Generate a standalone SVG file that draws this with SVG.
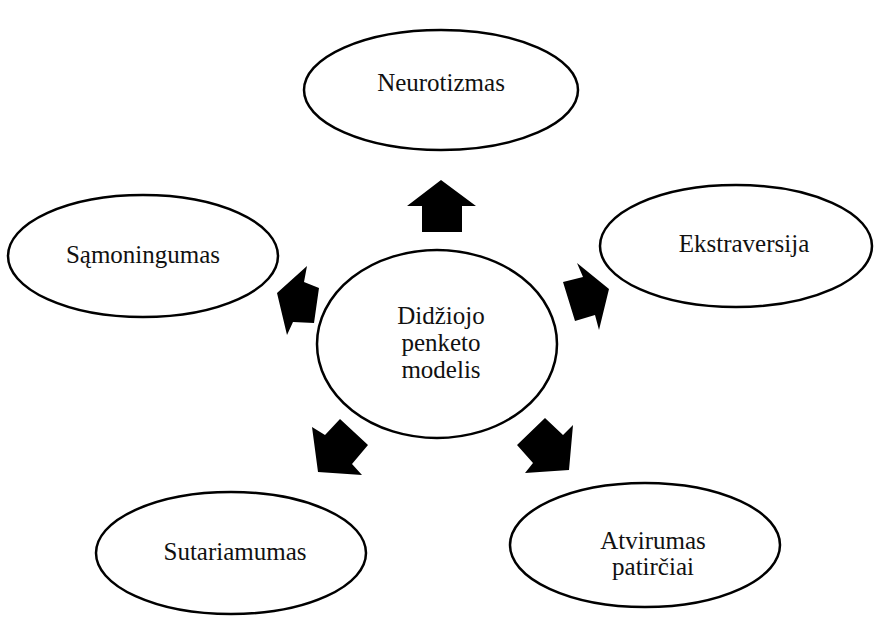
<svg xmlns="http://www.w3.org/2000/svg" width="878" height="633" viewBox="0 0 878 633">
  <style>
    .node ellipse { fill: #ffffff; stroke: #000000; stroke-width: 2.5; }
    .node text { font-size: 25px; fill: #111111; text-anchor: middle; }
    .arrow { fill: #000000; stroke: none; }
  </style>
  <rect width="878" height="633" fill="#ffffff"/>

  <g id="connectors">
    <!-- up, towards Neurotizmas -->
    <polygon class="arrow" points="441,180 476,206 462,206 462,232 422,232 422,206 407,206"/>
    <!-- right, towards Ekstraversija -->
    <polygon class="arrow" points="577,263 609,289 599,330 595,315 575,321 563,282 583,277"/>
    <!-- left, towards Samoningumas -->
    <polygon class="arrow" points="307,266 304,282 319,288 314,323 293,322 287,335 277,293"/>
    <!-- lower left, towards Sutariamumas -->
    <polygon class="arrow" points="312,427 325,435 340,419 368,445 352,464 362,475 318,472"/>
    <!-- lower right, towards Atvirumas patirciai -->
    <polygon class="arrow" points="517,445 545,418 563,435 573,425 569,470 525,473 533,463"/>
  </g>

  <g font-family="Liberation Serif, serif">
    <g id="center" class="node">
      <ellipse cx="437" cy="344" rx="120" ry="94"/>
      <text x="441" y="324">Didžiojo</text>
      <text x="441" y="351">penketo</text>
      <text x="441" y="378">modelis</text>
    </g>

    <g id="neurotizmas" class="node">
      <ellipse cx="441" cy="90" rx="137" ry="60"/>
      <text x="441" y="91">Neurotizmas</text>
    </g>

    <g id="samoningumas" class="node">
      <ellipse cx="143" cy="256" rx="135" ry="61"/>
      <text x="143" y="263">Sąmoningumas</text>
    </g>

    <g id="ekstraversija" class="node">
      <ellipse cx="736" cy="246" rx="136" ry="61"/>
      <text x="744" y="252">Ekstraversija</text>
    </g>

    <g id="sutariamumas" class="node">
      <ellipse cx="231" cy="553" rx="135" ry="61"/>
      <text x="235" y="560">Sutariamumas</text>
    </g>

    <g id="atvirumas" class="node">
      <ellipse cx="645" cy="545" rx="135" ry="62"/>
      <text x="653" y="549">Atvirumas</text>
      <text x="653" y="575">patirčiai</text>
    </g>
  </g>
</svg>
